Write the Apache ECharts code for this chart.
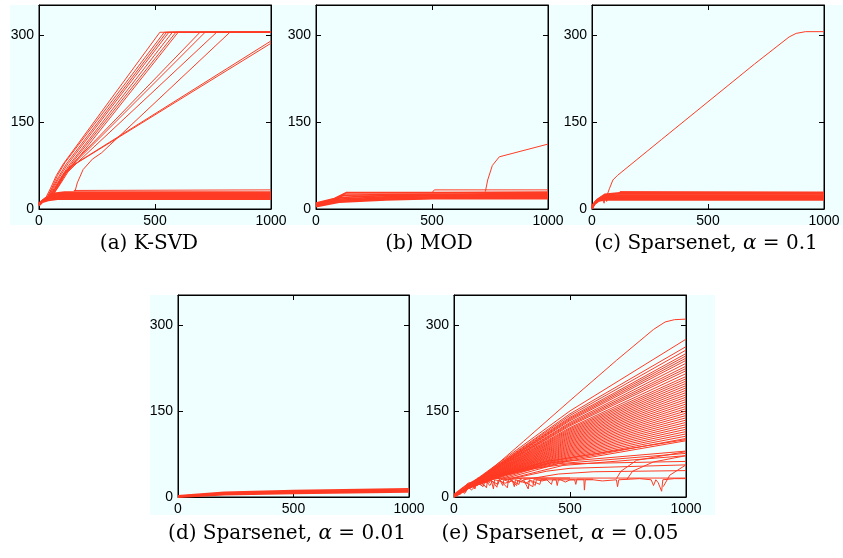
<!DOCTYPE html>
<html>
<head>
<meta charset="utf-8">
<script src="https://cdn.jsdelivr.net/npm/echarts@6/dist/echarts.min.js"></script>
<style>
  html, body { margin: 0; padding: 0; background: #fff; }
  #chart { width: 843px; height: 558px; }
</style>
</head>
<body>
<div id="chart"></div>
<script>
// tick labels
const xTicks = [0, 500, 1000];
const yTicks = [0, 150, 300];

// (a) K-SVD : dense band of curves + curves climbing to the plateau
const ksvdBand = [
  [[0, 6], [15, 12], [40, 15], [80, 17], [1000, 17]],
  [[0, 7], [15, 13], [40, 17], [80, 19], [1000, 19]],
  [[0, 8], [20, 15], [45, 19], [80, 21], [1000, 21]],
  [[0, 8], [20, 16], [50, 21], [90, 23], [1000, 23]],
  [[0, 9], [25, 17], [55, 23], [90, 25], [1000, 25]],
  [[0, 9], [25, 18], [60, 25], [100, 27], [1000, 27]],
  [[0, 10], [30, 19], [65, 27], [110, 29], [1000, 29]]
];
const ksvdLines = [
  [[150, 32], [1000, 33]],
  [[30, 20], [50, 36], [75, 58], [105, 78], [521, 305], [1000, 305]],
  [[35, 20], [55, 36], [80, 58], [112, 80], [540, 305], [1000, 305]],
  [[35, 20], [58, 36], [85, 56], [118, 78], [550, 305], [1000, 305]],
  [[40, 21], [62, 36], [90, 56], [125, 78], [560, 305], [1000, 305]],
  [[40, 21], [65, 35], [95, 55], [130, 76], [575, 305], [1000, 305]],
  [[45, 22], [70, 36], [100, 56], [138, 77], [590, 305], [1000, 305]],
  [[45, 22], [75, 37], [105, 56], [145, 76], [600, 305], [1000, 305]],
  [[50, 22], [78, 40], [110, 62], [150, 80], [694, 305], [1000, 305]],
  [[55, 22], [85, 40], [118, 64], [160, 82], [716, 305], [1000, 305]],
  [[60, 24], [90, 42], [125, 64], [170, 82], [766, 305], [1000, 305]],
  [[155, 30], [165, 45], [190, 68], [230, 86], [270, 97], [823, 305], [1000, 305]],
  [[50, 22], [80, 42], [110, 62], [140, 74], [1000, 290]],
  [[55, 22], [85, 42], [118, 63], [150, 76], [1000, 286]]
];

// (b) MOD
const modBand = [
  [[0, 4], [50, 8], [100, 12], [300, 16], [500, 18], [1000, 18]],
  [[0, 5], [50, 10], [100, 13], [300, 17], [500, 19], [1000, 20]],
  [[0, 6], [50, 11], [100, 15], [300, 19], [500, 21], [1000, 21]],
  [[0, 7], [50, 12], [100, 17], [300, 21], [500, 23], [1000, 23]],
  [[0, 8], [60, 14], [110, 20], [300, 23], [1000, 25]],
  [[0, 9], [70, 16], [120, 24], [1000, 27]],
  [[0, 10], [80, 18], [130, 28], [500, 28], [1000, 29]]
];
const modLines = [
  [[500, 28], [510, 33], [1000, 33]],
  [[730, 30], [740, 50], [760, 75], [790, 90], [1000, 112]]
];

// (c) Sparsenet, alpha = 0.1
const sn01Band = [
  [[0, 0], [10, 8], [30, 14], [60, 16], [1000, 16]],
  [[0, 1], [10, 9], [30, 15], [60, 18], [1000, 18]],
  [[0, 2], [15, 11], [35, 17], [70, 20], [1000, 20]],
  [[0, 3], [15, 12], [40, 19], [80, 22], [1000, 22]],
  [[0, 4], [20, 14], [45, 21], [90, 24], [1000, 24]],
  [[0, 5], [20, 15], [50, 23], [100, 26], [1000, 26]],
  [[0, 6], [25, 17], [55, 25], [120, 28], [1000, 28]]
];
const sn01Lines = [
  [[120, 30], [1000, 29]],
  [[40, 14], [45, 22], [52, 10], [57, 24], [63, 13], [70, 22]],
  [[65, 24], [75, 35], [90, 50], [110, 58], [300, 120], [500, 185], [700, 250], [850, 297], [880, 303], [920, 306], [1000, 306]]
];

// (d) Sparsenet, alpha = 0.01
const sn001Band = [
  [[0, 0], [200, 4], [500, 6.5], [1000, 9]],
  [[0, 0.5], [200, 5.5], [500, 8], [1000, 10.5]],
  [[0, 1], [200, 6.5], [500, 9.5], [1000, 12]],
  [[0, 2], [200, 8], [500, 11], [1000, 14]]
];

// (e) Sparsenet, alpha = 0.05 : fan of curves (departure point, value at 500, value at 1000)
const fanStartX = [60, 62, 64, 66, 68, 70, 72, 74, 76, 78, 80, 84, 88, 92, 96, 100, 104, 108, 112, 116, 120,
  125, 130, 135, 140, 145, 150, 155, 160, 165, 170, 175, 180, 185, 190, 195, 200, 205, 210, 215, 220];
const fanStartY = [20, 20, 21, 21, 22, 22, 23, 23, 24, 24, 25, 26, 26, 27, 27, 28, 28, 29, 29, 30, 30,
  31, 31, 32, 32, 33, 33, 34, 34, 35, 35, 36, 36, 36, 37, 37, 37, 38, 38, 38, 38];
const fanMid = [150, 145, 142, 139, 137, 135, 133, 130, 128, 126, 124, 121, 119, 117, 115, 113, 111, 109, 107, 105, 103,
  101, 99, 97, 95, 93, 91, 89, 87, 85, 83, 81, 79, 77, 75, 73, 71, 69, 67, 65, 63];
const fanEnd = [275, 262, 256, 250, 246, 242, 238, 233, 228, 224, 220, 215, 210, 206, 202, 198, 194, 190, 186, 182, 178,
  174, 170, 166, 162, 158, 154, 150, 146, 142, 138, 134, 130, 126, 122, 118, 114, 110, 106, 102, 98];
const sn005Band = [
  [[0, 0], [50, 12], [100, 26]],
  [[0, 2], [50, 15], [100, 29]],
  [[0, 4], [50, 19], [100, 31]]
];
const sn005Lines = [
  [[0, 0], [50, 14], [100, 28], [200, 62], [300, 97], [500, 168], [700, 238], [860, 292], [910, 305], [950, 309], [1000, 310]],
  [[150, 32], [400, 62], [1000, 100]],
  [[180, 32], [420, 60], [1000, 80]],
  [[200, 30], [450, 58], [1000, 76]],
  [[220, 30], [470, 55], [1000, 72]],
  [[200, 32], [350, 50], [500, 58], [1000, 62]],
  [[250, 32], [400, 45], [500, 50], [1000, 56]],
  [[300, 30], [450, 40], [600, 44], [1000, 46]],
  [[700, 32], [720, 45], [787, 64], [1000, 79]],
  [[744, 30], [770, 45], [859, 61], [1000, 72]],
  [[902, 18], [930, 38], [1000, 56]],
  [[100, 33], [1000, 33]],
  [[0, 2], [20, 10], [25, 4], [40, 14], [50, 8], [60, 18], [80, 22], [90, 14], [100, 26], [120, 20], [130, 30], [150, 24],
   [160, 30], [170, 14], [175, 30], [200, 28], [210, 20], [215, 30], [240, 26], [250, 30], [260, 18], [265, 30],
   [290, 26], [300, 30], [320, 14], [325, 30], [350, 20], [355, 30], [380, 28], [400, 30], [420, 22], [425, 30],
   [460, 30], [480, 26], [500, 30], [560, 30], [562, 12], [566, 30], [600, 30], [640, 28], [700, 30], [705, 18],
   [710, 30], [800, 32], [850, 30], [860, 20], [870, 30], [880, 25], [895, 10], [900, 30], [950, 32], [1000, 32]],
  [[10, 4], [30, 12], [45, 6], [60, 20], [75, 12], [90, 18], [110, 30], [140, 16], [145, 31], [190, 22], [195, 31],
   [230, 16], [235, 31], [280, 22], [285, 31], [340, 18], [345, 31], [400, 31]],
  [[20, 8], [35, 16], [55, 12], [70, 22], [85, 16], [105, 24], [125, 18], [135, 28], [155, 20], [165, 28], [185, 17],
   [190, 29], [220, 24], [250, 28], [270, 20], [275, 29], [310, 24], [330, 29], [370, 22], [375, 30], [440, 30],
   [445, 20], [450, 30], [520, 30], [525, 22], [530, 31], [600, 31]],
  [[40, 16], [60, 24], [80, 26], [100, 20], [115, 32], [135, 25], [180, 33], [230, 30], [300, 33], [500, 33]]
];

const RED = '#ff3b24';
const panels = [
  { band: ksvdBand, lines: ksvdLines, left: 39, top: 5, width: 232, height: 204 },
  { band: modBand, lines: modLines, left: 316, top: 5, width: 232, height: 204 },
  { band: sn01Band, lines: sn01Lines, left: 592, top: 5, width: 232, height: 204 },
  { band: sn001Band, lines: [], left: 178, top: 295, width: 231, height: 202 },
  { band: sn005Band, lines: sn005Lines, left: 454, top: 295, width: 232, height: 202 }
];
// fan lines for panel (e)
fanEnd.forEach((v, i) => {
  panels[4].lines.push([[0, 0], [40, 12], [fanStartX[i], fanStartY[i]], [500, fanMid[i]], [1000, v]]);
});

const chart = echarts.init(document.getElementById('chart'));

const grid = [], xAxis = [], yAxis = [], series = [];
const labelStyle = () => ({ color: '#000', fontSize: 14, fontFamily: 'Liberation Sans' });
const mkTick = () => ({ show: true, inside: true, length: 5, lineStyle: { color: '#000', width: 1 } });
const mkLine = () => ({ show: true, onZero: false, lineStyle: { color: '#000', width: 1 } });
const yFmt = v => (yTicks.indexOf(v) >= 0 ? String(v) : '');
const xFmt = v => (xTicks.indexOf(v) >= 0 ? String(v) : '');

panels.forEach((p, i) => {
  grid.push({ left: p.left, top: p.top, width: p.width, height: p.height,
    show: true, borderColor: '#000', borderWidth: 1, backgroundColor: 'transparent' });
  // bottom + top x axes
  xAxis.push({ gridIndex: i, type: 'value', position: 'bottom', min: 0, max: 1000, interval: 500,
    axisLine: mkLine(), axisTick: mkTick(), splitLine: { show: false },
    axisLabel: Object.assign({ margin: 5, formatter: xFmt }, labelStyle()) });
  xAxis.push({ gridIndex: i, type: 'value', position: 'top', min: 0, max: 1000, interval: 500,
    axisLine: mkLine(), axisTick: mkTick(), splitLine: { show: false }, axisLabel: { show: false } });
  // left + right y axes
  yAxis.push({ gridIndex: i, type: 'value', position: 'left', min: 0, max: 352, interval: 150,
    axisLine: mkLine(), splitLine: { show: false }, axisTick: mkTick(),
    axisLabel: Object.assign({ margin: 5, formatter: yFmt, showMaxLabel: false }, labelStyle()) });
  yAxis.push({ gridIndex: i, type: 'value', position: 'right', min: 0, max: 352, interval: 150,
    axisLine: mkLine(), splitLine: { show: false }, axisTick: mkTick(), axisLabel: { show: false } });

  p.band.forEach(d => series.push({ type: 'line', xAxisIndex: 2 * i, yAxisIndex: 2 * i, data: d,
    showSymbol: false, symbol: 'none', silent: true, lineStyle: { color: RED, width: 1.8 } }));
  p.lines.forEach(d => series.push({ type: 'line', xAxisIndex: 2 * i, yAxisIndex: 2 * i, data: d,
    showSymbol: false, symbol: 'none', silent: true, lineStyle: { color: RED, width: 1 } }));
});

function caption(text, x, y) {
  return { type: 'text', x: x, y: y, z: 10,
    style: { text: text, fill: '#000', fontSize: 20, fontFamily: 'DejaVu Serif', align: 'center', verticalAlign: 'middle',
      rich: { i: { fontStyle: 'italic', fontSize: 20, fontFamily: 'DejaVu Serif' } } } };
}

chart.setOption({
  animation: false,
  backgroundColor: '#fff',
  graphic: [
    { type: 'rect', z: -10, shape: { x: 10, y: 5, width: 833, height: 220 }, style: { fill: '#efffff' } },
    { type: 'rect', z: -10, shape: { x: 150, y: 295, width: 565, height: 220 }, style: { fill: '#efffff' } },
    caption('(a) K-SVD', 149, 244),
    caption('(b) MOD', 429, 244),
    caption('(c) Sparsenet, {i|α} = 0.1', 706, 244),
    caption('(d) Sparsenet, {i|α} = 0.01', 287, 534),
    caption('(e) Sparsenet, {i|α} = 0.05', 560, 534)
  ],
  grid: grid,
  xAxis: xAxis,
  yAxis: yAxis,
  series: series
});
</script>
</body>
</html>
